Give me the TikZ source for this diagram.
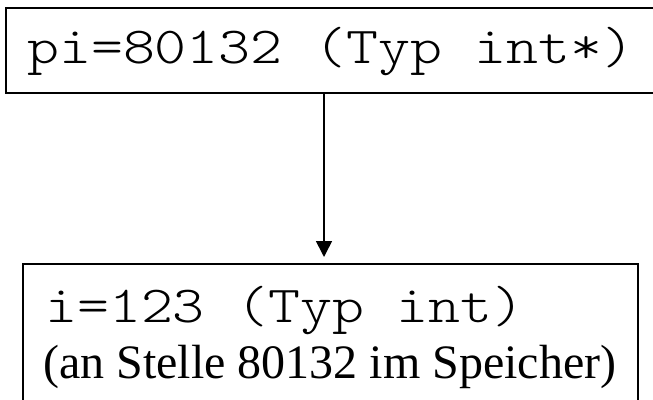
\documentclass[tikz,border=0pt]{standalone}
\usepackage{fontspec}
\setmainfont{Liberation Serif}
\newfontfamily\typefont[FakeStretch=1.17]{Latin Modern Mono Light}
\usetikzlibrary{arrows.meta}
\begin{document}
\begin{tikzpicture}[x=1pt,y=-1pt,
  box/.style={draw,line width=1.6pt,inner sep=0pt},
  code/.style={font=\typefont\fontsize{52}{60}\selectfont,inner sep=0pt,anchor=base west},
  note/.style={font=\fontsize{48}{56}\selectfont,inner sep=0pt,anchor=base west},
  link/.style={line width=1.6pt,-{Triangle[width=16pt,length=16pt]},shorten >=6pt}]
\useasboundingbox (0,0) rectangle (653,399);
% pointer box (right edge runs past the page)
\node[box,minimum width=650pt,minimum height=85pt,anchor=north west] (ptr) at (5,7) {};
\node[code] (ptrtext) at (27,63) {pi=80132 (Typ int*)};
% value box (bottom edge runs past the page)
\node[box,minimum width=615pt,minimum height=150pt,anchor=north west] (val) at (22,263) {};
\node[code] (valtext) at (45,322) {i=123 (Typ int)};
\node[note] (valnote) at (43,378) {(an Stelle 80132 im Speicher)};
% pointer arrow
\coordinate (ax) at (324,0);
\draw[link] (ptr.south -| ax) -- (val.north -| ax);
\end{tikzpicture}
\end{document}
